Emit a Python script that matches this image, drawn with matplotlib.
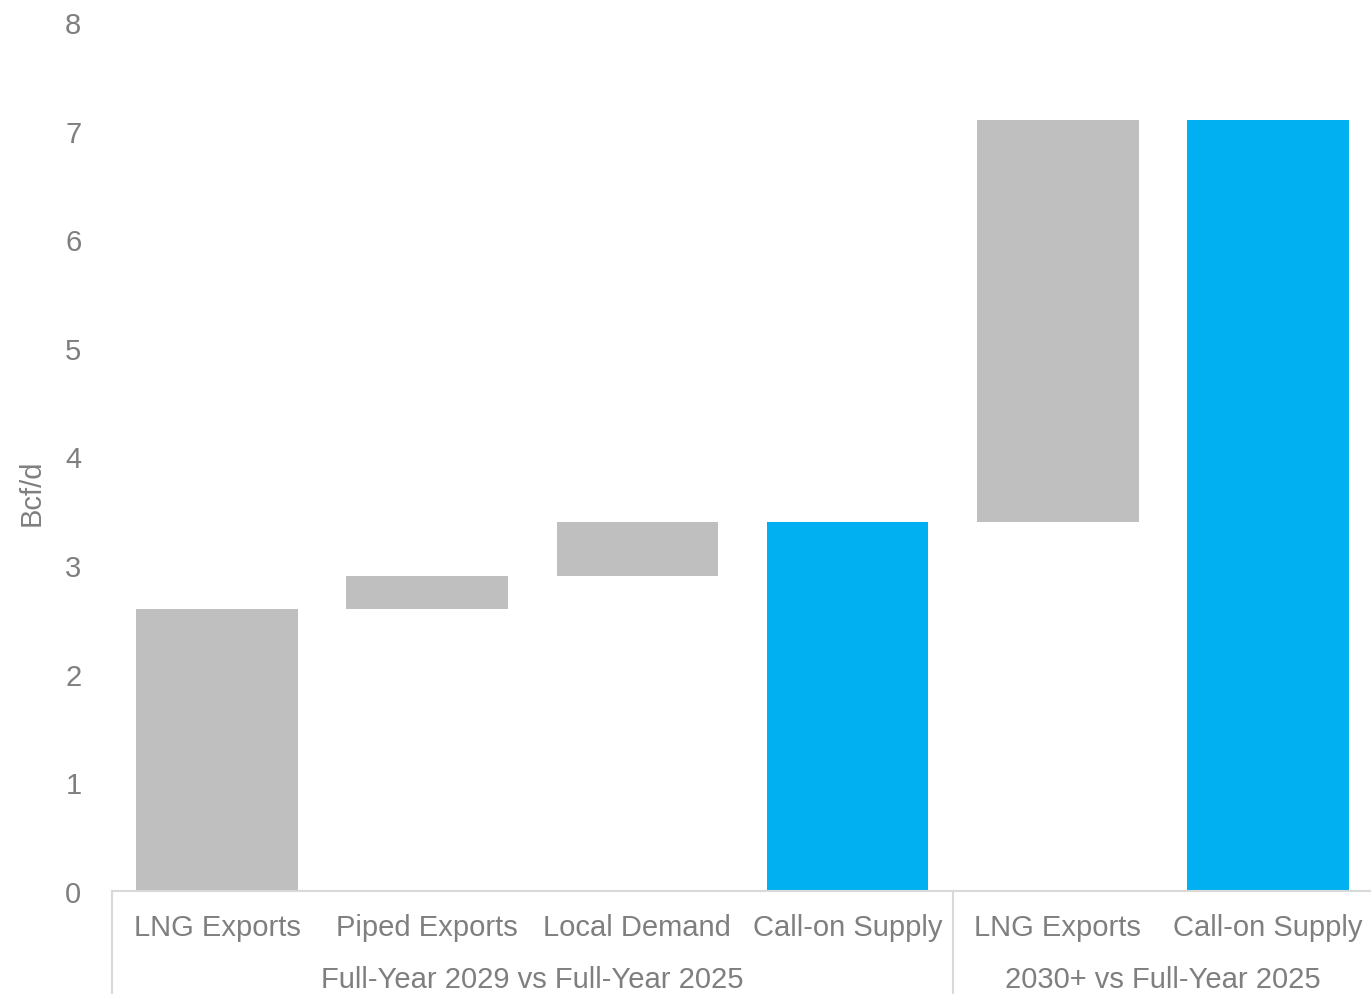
import matplotlib
matplotlib.use("Agg")
import matplotlib.pyplot as plt
import matplotlib.transforms as mtransforms
from matplotlib.lines import Line2D

plt.rcParams['font.family'] = ['Liberation Sans', 'DejaVu Sans']

# data
categories = ["LNG Exports", "Piped Exports", "Local Demand", "Call-on Supply",
              "LNG Exports", "Call-on Supply"]
increments = [2.6, 0.3, 0.5, 0.0, 3.7, 0.0]
is_total = [False, False, False, True, False, True]
groups = ["Full-Year 2029 vs Full-Year 2025", "2030+ vs Full-Year 2025"]
group_sizes = [4, 2]

GREY = "#bfbfbf"
BLUE = "#00b0f0"
TXT = "#7f7f7f"
LINE = "#d9d9d9"

# waterfall bottoms / heights
bottoms, heights, colors = [], [], []
running = 0.0
for inc, tot in zip(increments, is_total):
    if tot:
        bottoms.append(0)
        heights.append(running)
        colors.append(BLUE)
    else:
        bottoms.append(running)
        heights.append(inc)
        colors.append(GREY)
        running += inc

fig = plt.figure(figsize=(13.71, 9.95), dpi=100)
ax_w = 1261.0
ax_h = 869.0
ax = fig.add_axes([112 / 1371, 1 - 892 / 995, ax_w / 1371, ax_h / 995])

x = list(range(len(categories)))
ax.bar(x, heights, bottom=bottoms, width=0.77, color=colors)

ax.set_xlim(-0.5, len(categories) - 0.5)
ax.set_ylim(0, 8)
ax.set_yticks(range(0, 9))
ax.tick_params(axis='y', length=0, pad=22, labelsize=21, labelcolor=TXT)
ax.set_xticks([])
ax.set_ylabel("Bcf/d", fontsize=21, color=TXT)
ax.yaxis.set_label_coords(-66 / ax_w, 0.46)

for s in ["top", "right", "left"]:
    ax.spines[s].set_visible(False)
ax.spines["bottom"].set_color(LINE)
ax.spines["bottom"].set_linewidth(1.5)

trans = mtransforms.blended_transform_factory(ax.transData, ax.transAxes)

# category labels
for xi, lab in zip(x, categories):
    ax.text(xi, -36 / ax_h, lab, transform=trans, ha='center', va='center',
            fontsize=21, color=TXT)

# group labels and separators
start = 0
for g, n in zip(groups, group_sizes):
    left = start - 0.5
    center = start + (n - 1) / 2
    ax.add_line(Line2D([left, left], [0, -104 / ax_h], transform=trans,
                       color=LINE, linewidth=1.5, clip_on=False))
    ax.text(center, -88 / ax_h, g, transform=trans, ha='center', va='center',
            fontsize=21, color=TXT)
    start += n

fig.savefig("out.png", dpi=100)
